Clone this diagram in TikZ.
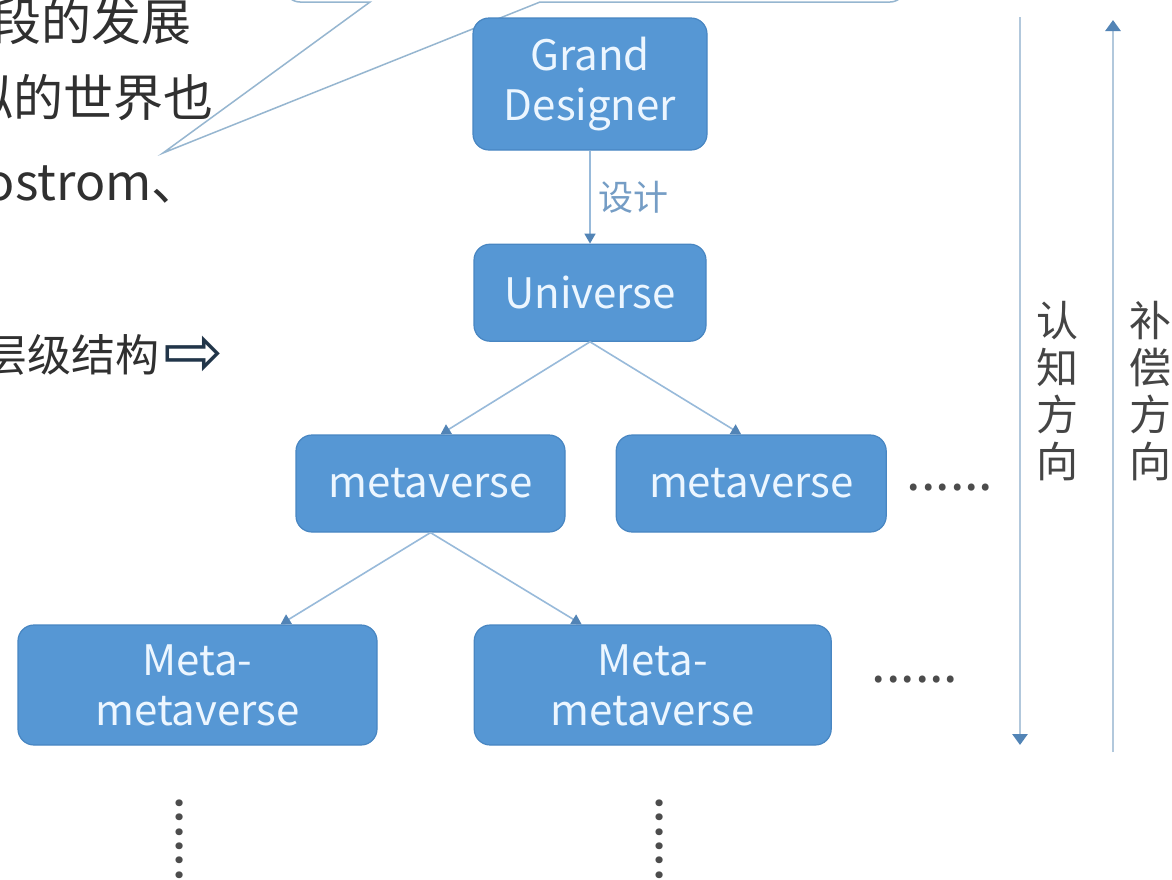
\documentclass[tikz,border=0pt]{standalone}
\usepackage{fontspec}
\setmainfont{Noto Sans CJK SC}
\newfontfamily\arrowfont{DejaVu Sans}
\usepackage{tikz}
\usetikzlibrary{arrows.meta, positioning}
\definecolor{boxblue}{RGB}{86,151,212}
\definecolor{boxedge}{RGB}{72,134,194}
\definecolor{boxtext}{RGB}{236,246,255}
\definecolor{linkblue}{RGB}{152,186,218}
\definecolor{tipblue}{RGB}{82,132,182}
\definecolor{sidegrey}{RGB}{178,200,220}
\definecolor{inkgrey}{RGB}{48,48,48}
\definecolor{callgrey}{RGB}{150,182,208}

\begin{document}
\begin{tikzpicture}[
  x=1pt, y=-1pt,
  bx/.style={draw=boxedge, line width=1.2pt, fill=boxblue, rounded corners=16pt, text=boxtext, font=\fontsize{42}{50}\selectfont, align=center, inner sep=0pt, minimum height=97pt},
  ar/.style={draw=linkblue, line width=1.6pt, -{Triangle[length=10pt, width=11pt, color=tipblue]}},
  sd/.style={draw=sidegrey, line width=2.8pt, -{Triangle[length=11pt, width=15pt, color=tipblue]}},
  el/.style={font=\fontsize{35}{40}\selectfont, text=tipblue!80!white, inner sep=8pt},
  lt/.style={font=\fontsize{50}{56}\selectfont, text=inkgrey, inner sep=0pt},
  vt/.style={font=\fontsize{42}{47}\selectfont, text=inkgrey!90!white, align=center, inner sep=0pt},
  dt/.style={font=\fontsize{52}{56}\selectfont, text=black!70, inner sep=0pt}
]
\useasboundingbox (0,0) rectangle (1172,879);
\fill[white] (0,0) rectangle (1172,879);
\clip (0,0) rectangle (1172,879);

\draw[callgrey, line width=1.5pt, fill=white] (285,-80) -- (285,-13) arc[start angle=180, end angle=90, radius=15] -- (370,2) -- (163,153) -- (540,2) -- (890,2) arc[start angle=90, end angle=0, radius=15] -- (905,-80);

\node[lt, anchor=east] (txtA) at (192,21) {段的发展};
\node[lt, anchor=east] (txtB) at (214,98) {拟的世界也};
\node[lt, anchor=base east] (txtC) at (202,200) {Bostrom、};
\node[lt, font=\fontsize{44}{50}\selectfont, anchor=east] (txtD) at (160,355) {层级结构};
\node[inner sep=0pt, text=black!60!tipblue] (arrD) at (194,356) {\arrowfont\fontsize{72}{74}\selectfont ⇨};

\node[bx, minimum width=234pt, minimum height=132pt] (gd) at (590,84) {Grand\\Designer};
\node[bx, minimum width=232pt, below=93pt of gd] (uni) {Universe};
\node[bx, minimum width=269pt] (mvL) at (430.5,483.5) {metaverse};
\node[bx, minimum width=270pt, right=50pt of mvL] (mvR) {metaverse};
\node[bx, minimum width=359pt, minimum height=120pt] (mmL) at (197.5,685) {Meta-\\metaverse};
\node[bx, minimum width=357pt, minimum height=120pt, right=96pt of mmL] (mmR) {Meta-\\metaverse};

\draw[ar] (gd) -- node[el, right]{设计} (uni);
\draw[ar] (uni.south) -- ([xshift=10pt]mvL.north);
\draw[ar] (uni.south) -- ([xshift=-10pt]mvR.north);
\draw[ar] (mvL.south) -- ([xshift=83pt]mmL.north);
\draw[ar] (mvL.south) -- ([xshift=-71pt]mmR.north);

\node[dt] (moreMv) at (950,488) {......};
\node[dt] (moreMm) at (915,680) {......};
\node[dt, rotate=90] (downL) at (180,839) {......};
\node[dt, rotate=90] (downR) at (660,839) {......};

\coordinate (cogTop) at (1020,17);
\coordinate (cogBot) at (1020,745);
\coordinate (compBot) at (1113,752);
\coordinate (compTop) at (1113,20);
\draw[sd] (cogTop) -- (cogBot);
\draw[sd] (compBot) -- (compTop);
\node[vt] (cogLbl) at (1057,391) {认\\知\\方\\向};
\node[vt] (compLbl) at (1150,391) {补\\偿\\方\\向};
\end{tikzpicture}
\end{document}
